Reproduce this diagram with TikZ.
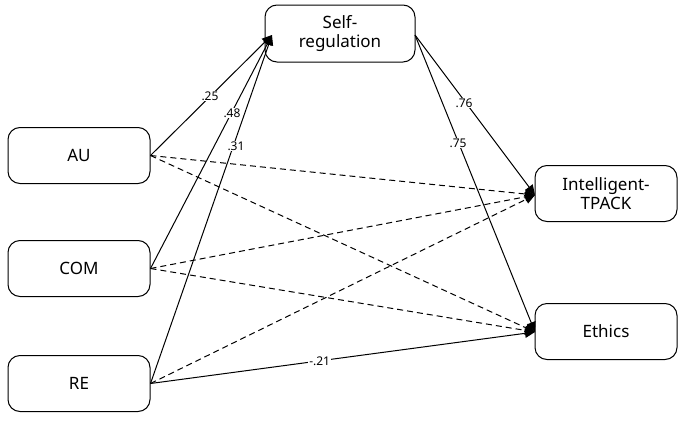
\documentclass[tikz,border=0pt]{standalone}
\usepackage{fontspec}
\setmainfont{Noto Sans}
\usetikzlibrary{arrows.meta}
\begin{document}
\begin{tikzpicture}[x=1pt,y=-1pt,
  box/.style={draw,rounded corners=12pt,minimum width=142pt,minimum height=56pt,align=center,font=\fontsize{17}{19}\selectfont,line width=1pt},
  ar/.style={-{Triangle[length=10pt,width=9pt]},line width=1pt},
  da/.style={ar,dashed,dash pattern=on 6pt off 4pt},
  lab/.style={fill=white,inner sep=1pt,font=\fontsize{12}{14}\selectfont}]
\useasboundingbox (0,0) rectangle (685,423);
\node[box] (au) at (79,155.5) {AU};
\node[box] (com) at (79,268.5) {COM};
\node[box] (re) at (79,383.5) {RE};
\node[box,minimum width=150pt,minimum height=57pt] (sr) at (340,33.5) {Self-\\regulation};
\node[box] (it) at (606,193.5) {Intelligent-\\TPACK};
\node[box] (et) at (606,331.5) {Ethics};
\coordinate (srin) at (272,35);
\coordinate (srout) at (415,35);
\coordinate (itin) at (535,195);
\coordinate (etin) at (535,332);
\draw[ar] (au.east) -- (srin);
\draw[ar] (com.east) -- (srin);
\draw[ar] (re.east) -- (srin);
\node[lab] at (210,96) {.25};
\node[lab] at (232,113) {.48};
\node[lab] at (236,146) {.31};
\draw[ar] (srout) -- (itin);
\draw[ar] (srout) -- (etin);
\node[lab] at (464,103) {.76};
\node[lab] at (458,143) {.75};
\draw[da] (au.east) -- (itin);
\draw[da] (au.east) -- (etin);
\draw[da] (com.east) -- (itin);
\draw[da] (com.east) -- (etin);
\draw[da] (re.east) -- (itin);
\draw[ar] (re.east) -- (etin) node[lab,pos=0.44] {-.21};
\end{tikzpicture}
\end{document}
